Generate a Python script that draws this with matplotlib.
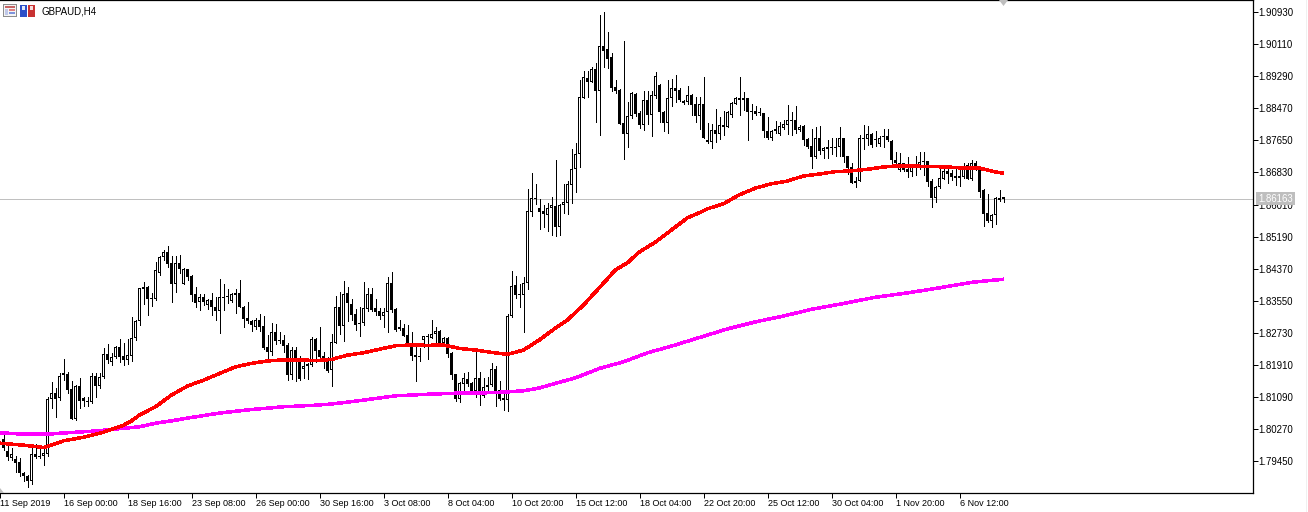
import numpy as np
import matplotlib
matplotlib.use('Agg')
import matplotlib.pyplot as plt
from matplotlib.patches import Rectangle, Polygon
from matplotlib.transforms import IdentityTransform

# prices in 1/10000
opens = [18001,17971,17954,17950,17942,17914,17907,17895,17963,17957,
         17957,17963,18103,18119,18106,18170,18168,18129,18052,18137,
         18106,18099,18095,18163,18138,18160,18219,18199,18211,18237,
         18214,18204,18215,18259,18302,18390,18390,18362,18360,18427,
         18466,18479,18451,18399,18451,18399,18435,18418,18371,18351,
         18364,18345,18358,18340,18328,18364,18366,18355,18374,18374,
         18340,18310,18304,18287,18307,18290,18236,18225,18274,18254,
         18254,18242,18166,18228,18209,18181,18187,18192,18256,18229,
         18214,18209,18177,18248,18338,18291,18374,18347,18321,18298,
         18297,18333,18372,18336,18329,18315,18325,18400,18333,18287,
         18285,18268,18246,18216,18212,18255,18265,18261,18269,18278,
         18247,18260,18222,18167,18105,18143,18154,18144,18125,18158,
         18112,18140,18139,18181,18127,18107,18102,18315,18394,18372,
         18369,18400,18583,18617,18592,18585,18575,18591,18597,18544,
         18601,18606,18652,18693,18729,18874,18925,18914,18947,18892,
         19006,18998,18978,18901,18894,18809,18782,18827,18883,18835,
         18803,18868,18829,18879,18907,18838,18810,18873,18898,18894,
         18865,18864,18881,18858,18828,18859,18766,18761,18791,18782,
         18804,18800,18829,18858,18872,18872,18873,18840,18839,18836,
         18834,18790,18771,18793,18782,18797,18805,18818,18818,18791,
         18801,18768,18750,18723,18770,18738,18744,18749,18748,18747,
         18770,18724,18696,18656,18662,18772,18769,18780,18768,18755,
         18777,18777,18764,18716,18689,18706,18691,18685,18704,18702,
         18710,18711,18661,18618,18645,18667,18687,18681,18674,18674,
         18672,18702,18666,18706,18694,18638,18578,18559,18574,18617,18620]
highs = [18021,17991,17978,17957,17953,17918,17910,17988,17988,17982,
         17982,18110,18148,18131,18170,18206,18174,18151,18140,18157,
         18110,18110,18170,18170,18170,18234,18245,18221,18240,18257,
         18246,18257,18313,18306,18387,18402,18393,18376,18454,18469,
         18485,18495,18469,18469,18471,18438,18436,18420,18390,18371,
         18371,18360,18374,18365,18411,18399,18384,18375,18384,18408,
         18341,18353,18307,18310,18322,18317,18267,18297,18295,18276,
         18267,18246,18236,18237,18214,18204,18195,18263,18259,18288,
         18223,18212,18270,18366,18378,18406,18390,18359,18333,18340,
         18402,18387,18387,18359,18336,18336,18415,18428,18336,18306,
         18296,18293,18274,18242,18234,18265,18270,18306,18287,18279,
         18262,18262,18225,18167,18148,18170,18174,18148,18225,18174,
         18157,18161,18197,18187,18151,18119,18321,18430,18417,18397,
         18415,18640,18681,18654,18615,18600,18606,18620,18715,18603,
         18654,18660,18743,18758,18920,18941,18943,18952,18962,19086,
         19092,19041,18988,18920,18896,19019,18864,18888,18885,18839,
         18890,18891,18890,18939,18909,18841,18920,18922,18932,18898,
         18868,18904,18884,18876,18876,18926,18810,18808,18844,18825,
         18840,18840,18863,18875,18926,18889,18874,18857,18853,18848,
         18835,18825,18791,18814,18812,18817,18855,18838,18852,18804,
         18804,18770,18795,18800,18802,18748,18766,18770,18772,18798,
         18772,18725,18706,18672,18778,18804,18802,18783,18789,18776,
         18793,18794,18766,18736,18732,18708,18723,18704,18725,18734,
         18734,18713,18665,18648,18693,18693,18696,18689,18700,18689,
         18706,18706,18715,18713,18695,18640,18628,18576,18621,18638,18621]
lows = [17974,17948,17947,17918,17906,17895,17878,17886,17953,17953,
        17935,17957,18080,18057,18102,18153,18119,18052,18051,18080,
        18085,18087,18093,18110,18131,18157,18195,18191,18208,18199,
        18192,18193,18202,18255,18292,18347,18318,18341,18357,18421,
        18459,18440,18353,18378,18427,18398,18408,18355,18340,18331,
        18344,18335,18318,18306,18273,18331,18348,18353,18324,18338,
        18288,18298,18278,18284,18278,18231,18204,18216,18244,18246,
        18225,18152,18155,18151,18152,18157,18154,18189,18198,18209,
        18183,18173,18137,18246,18270,18251,18302,18306,18279,18265,
        18293,18330,18330,18319,18308,18287,18276,18327,18278,18281,
        18265,18240,18204,18151,18200,18238,18206,18259,18246,18246,
        18242,18211,18154,18100,18096,18127,18137,18122,18110,18089,
        18110,18119,18137,18085,18102,18076,18074,18313,18361,18340,
        18276,18384,18572,18603,18539,18543,18532,18523,18521,18523,
        18579,18577,18604,18633,18698,18873,18877,18913,18813,18779,
        18952,18949,18890,18885,18806,18718,18747,18823,18826,18796,
        18792,18807,18775,18873,18813,18789,18785,18853,18864,18866,
        18858,18858,18830,18812,18795,18770,18757,18746,18761,18768,
        18778,18799,18825,18857,18829,18842,18766,18819,18829,18829,
        18774,18769,18766,18784,18778,18793,18781,18778,18784,18789,
        18753,18746,18695,18721,18731,18720,18721,18729,18725,18725,
        18710,18680,18656,18646,18661,18744,18753,18747,18750,18751,
        18748,18764,18702,18698,18687,18687,18672,18674,18676,18691,
        18676,18648,18595,18608,18642,18665,18657,18664,18651,18648,
        18670,18665,18664,18689,18621,18546,18557,18544,18551,18610,18607]
closes = [17978,17955,17963,17941,17914,17907,17895,17963,17955,17955,
          17965,18103,18119,18103,18163,18166,18127,18052,18137,18100,
          18100,18096,18163,18138,18160,18219,18204,18211,18236,18212,
          18204,18216,18259,18304,18387,18385,18360,18360,18434,18466,
          18479,18449,18399,18451,18435,18435,18416,18370,18350,18364,
          18353,18358,18340,18330,18364,18362,18364,18372,18370,18340,
          18309,18304,18292,18307,18288,18235,18225,18274,18253,18252,
          18240,18166,18228,18209,18155,18188,18193,18256,18227,18212,
          18209,18176,18249,18338,18291,18372,18350,18319,18293,18295,
          18336,18372,18332,18327,18315,18326,18400,18332,18281,18283,
          18266,18242,18215,18210,18210,18264,18263,18269,18278,18248,
          18260,18220,18165,18105,18144,18158,18143,18125,18158,18125,
          18134,18134,18181,18117,18105,18102,18316,18393,18370,18370,
          18400,18584,18617,18614,18582,18577,18591,18600,18544,18600,
          18608,18654,18691,18730,18875,18926,18914,18947,18892,19006,
          18994,18974,18900,18891,18808,18781,18827,18885,18832,18803,
          18868,18829,18880,18929,18837,18810,18874,18898,18892,18867,
          18861,18880,18856,18828,18859,18771,18761,18791,18781,18804,
          18800,18838,18861,18872,18869,18869,18838,18838,18833,18834,
          18789,18771,18790,18789,18801,18806,18816,18814,18791,18800,
          18766,18748,18723,18770,18738,18745,18749,18746,18746,18770,
          18722,18695,18657,18662,18770,18769,18780,18754,18766,18772,
          18774,18766,18715,18706,18708,18689,18683,18702,18699,18709,
          18709,18659,18618,18646,18668,18687,18680,18672,18670,18670,
          18699,18666,18706,18693,18634,18577,18559,18574,18617,18613,18616]

# the two moving averages, read at these bars
red_bars = [-1,0,5,10,12,15,20,25,30,32,34,38,42,46,50,54,58,62,66,70,74,78,82,86,90,94,98,
            102,106,110,114,118,122,126,130,134,137,141,145,150,153,156,159,163,167,171,
            174,176,180,184,188,192,196,200,204,208,212,216,220,224,228,232,236,240,244,246,248,250]
red_ma = [17991,17990,17986,17980,17986,17997,18006,18019,18037,18048,18063,18084,18114,18137,18152,
          18169,18186,18195,18201,18204,18204,18202,18205,18216,18222,18231,18240,
          18242,18241,18242,18233,18229,18223,18218,18229,18255,18278,18306,18344,18400,18434,
          18452,18480,18505,18536,18567,18580,18590,18603,18626,18643,18654,18661,18674,18679,
          18685,18687,18691,18697,18700,18699,18698,18697,18694,18694,18689,18684,18681]
pink_bars = [-1,0,5,11,15,23,30,34,38,42,46,54,62,70,78,82,90,98,106,114,122,126,130,134,137,143,
             149,155,161,167,174,181,188,195,202,210,218,226,234,242,250]
pink_ma = [18017,18017,18014,18014,18017,18022,18029,18033,18042,18048,18055,18068,18077,18084,18088,
           18091,18101,18112,18116,18119,18120,18122,18125,18132,18141,18158,
           18182,18199,18222,18239,18261,18283,18301,18316,18333,18348,18364,18375,18388,18402,18410]

y_ticks = [1.90930,1.90110,1.89290,1.88470,1.87650,1.86830,1.86010,1.85190,
           1.84370,1.83550,1.82730,1.81910,1.81090,1.80270,1.79450]
x_tick_bars = [15,31,47,63,79,95,111,127,143,159,175,191,207,223,239]
x_tick_labels = ['16 Sep 00:00','18 Sep 16:00','23 Sep 08:00','26 Sep 00:00','30 Sep 16:00',
                 '3 Oct 08:00','8 Oct 04:00','10 Oct 20:00','15 Oct 12:00','18 Oct 04:00',
                 '22 Oct 20:00','25 Oct 12:00','30 Oct 04:00','1 Nov 20:00','6 Nov 12:00']
first_label = '11 Sep 2019'
last_price = 1.86163
symbol = 'GBPAUD,H4'

FONT = 'Liberation Sans'
W, H = 1308, 512
ONE_PX = 0.0002556

o = np.array(opens) / 10000
h = np.array(highs) / 10000
l = np.array(lows) / 10000
c = np.array(closes) / 10000
bars = np.arange(len(o))

fig = plt.figure(figsize=(W / 100, H / 100), dpi=100, facecolor='white')
ax = fig.add_axes([0, (H - 493) / H, 1253 / W, 493 / H])
ax.set_xlim(-0.875, 312.375)
ax.set_ylim(1.78636, 1.91237)

ax.axhline(last_price, color='#c0c0c0', lw=0.72, zorder=1)

# candles: wick, then black body, then white inside for the up bars
ax.vlines(bars, l, h, color='black', lw=0.72, zorder=2, antialiased=False)
up = c >= o
body_low = np.minimum(o, c)
body_h = np.maximum(np.abs(c - o), ONE_PX * 1.2)
ax.bar(bars, body_h, bottom=body_low, width=0.75, facecolor='black', lw=0, zorder=3, antialiased=False)
inner = up & (body_h > 2.5 * ONE_PX)
ax.bar(bars[inner], body_h[inner] - 2 * ONE_PX, bottom=body_low[inner] + ONE_PX, width=0.25,
       facecolor='white', lw=0, zorder=3.5, antialiased=False)

ax.plot(pink_bars, np.array(pink_ma) / 10000, color='#ff00ff', lw=1.8, zorder=4,
        antialiased=False, solid_capstyle='butt')
ax.plot(red_bars, np.array(red_ma) / 10000, color='#ff0000', lw=1.8, zorder=5,
        antialiased=False, solid_capstyle='butt')

ax.spines['left'].set_visible(False)
for s in ['top', 'right', 'bottom']:
    ax.spines[s].set_linewidth(0.9)
ax.yaxis.tick_right()
ax.set_yticks(y_ticks)
ax.set_yticklabels(['%.5f' % v for v in y_ticks], fontsize=6.9, family=FONT)
ax.set_xticks([-0.875] + x_tick_bars)
ax.set_xticklabels([first_label] + x_tick_labels, fontsize=6.5, family=FONT, ha='left')
ax.tick_params(axis='y', length=3.6, width=0.72, pad=0)
ax.tick_params(axis='x', length=3.6, width=0.72, pad=0.8)

# current price tag over the axis labels
tag_y = ax.transData.transform((0, last_price))[1]
ax.annotate('%.5f' % last_price, xy=(1275.5 / W, tag_y / H), xycoords='figure fraction',
            ha='center', va='center', fontsize=6.9, family=FONT, color='white', zorder=11,
            annotation_clip=False,
            bbox=dict(boxstyle='square,pad=0.2', fc='#bebebe', ec='none'))

ax.text(41 / 1253, 1 - 11 / 493, symbol, transform=ax.transAxes, fontsize=7, family=FONT,
        ha='left', va='center', color='black')


def px_rect(x, y, w, hh, color):
    fig.add_artist(Rectangle((x, H - y - hh), w, hh, transform=IdentityTransform(),
                             facecolor=color, edgecolor='none', antialiased=False, zorder=20))


# little toolbar icons at top left
px_rect(3, 4, 14, 13, '#8c8c8c')
px_rect(4, 5, 12, 11, '#f4f4f4')
px_rect(5, 6, 10, 2, '#c86464')
px_rect(5, 9, 3, 6, '#c0c8e8')
px_rect(9, 9, 6, 2, '#e08080')
px_rect(9, 12, 6, 2, '#7d94dc')
px_rect(20, 5, 7, 12, '#2c4fc8')
px_rect(22, 6, 3, 4, '#e0e8f8')
px_rect(28, 5, 7, 12, '#c83232')
px_rect(30, 6, 3, 4, '#f4dcdc')

# chart shift marker and the corner marker
fig.add_artist(Polygon([[999, H], [1008, H], [1003.5, H - 6]], closed=True, transform=IdentityTransform(),
                       facecolor='#bebebe', edgecolor='none', zorder=20))
fig.add_artist(Polygon([[0, H - 488], [0, H - 493], [4, H - 493]], closed=True, transform=IdentityTransform(),
                       facecolor='#bebebe', edgecolor='none', zorder=20))
px_rect(1306, 0, 1, H, '#f0f0f0')

fig.savefig('out.png', dpi=100)
